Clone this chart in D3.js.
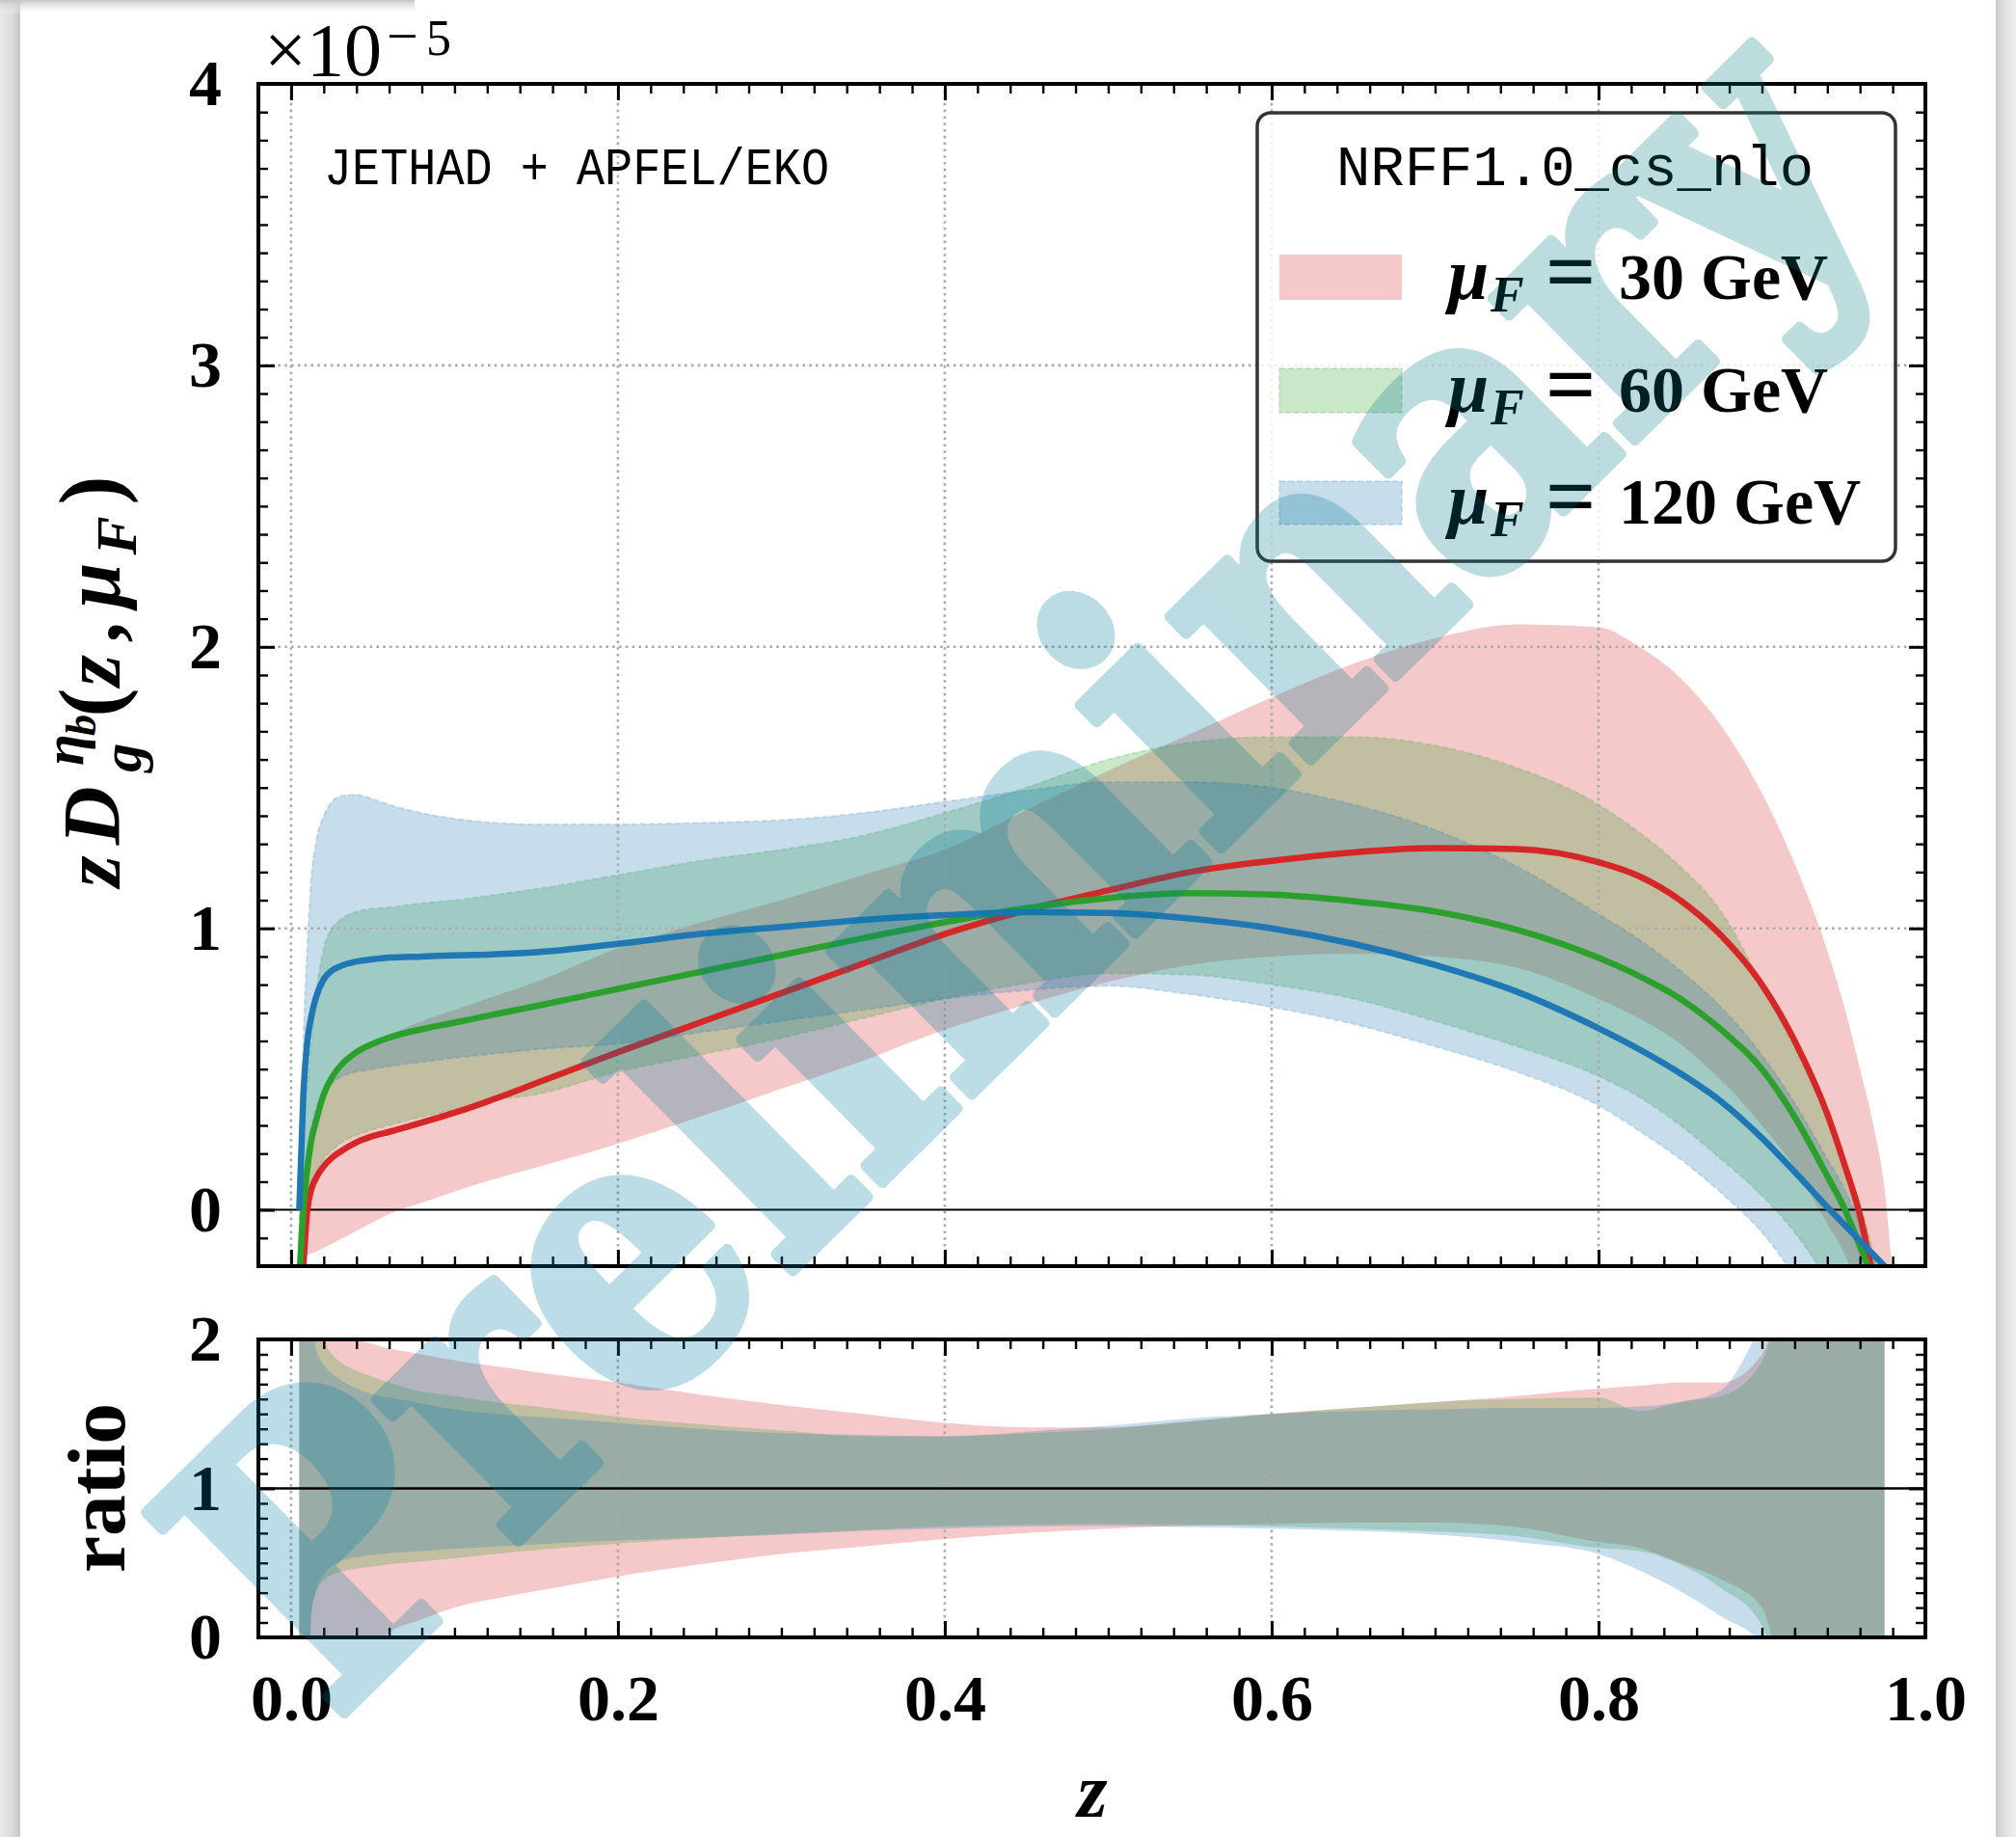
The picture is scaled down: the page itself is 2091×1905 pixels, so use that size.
<!DOCTYPE html>
<html><head><meta charset="utf-8">
<script src="https://cdn.jsdelivr.net/npm/d3@7"></script>
<style>html,body{margin:0;padding:0;background:#fff;} svg{display:block;}</style>
</head><body>
<script>
// ---------------- DATA (values in units of 1e-5) ----------------
const zGrid = [0.005, 0.0075, 0.01, 0.0125, 0.015, 0.02, 0.025, 0.03, 0.04, 0.05, 0.06, 0.08, 0.1, 0.125, 0.15, 0.2, 0.25, 0.3, 0.35, 0.4, 0.45, 0.5, 0.55, 0.6, 0.65, 0.7, 0.75, 0.8, 0.825, 0.85, 0.875, 0.9, 0.92, 0.94, 0.95, 0.96, 0.97, 0.975, 0.98];

const seriesLabels = ["30", "60", "120"];
const seriesColors = ["#d62728", "#2ca02c", "#1f77b4"];

const centralMu30  = [-0.45, -0.2, 0.0, 0.075, 0.11, 0.155, 0.185, 0.206, 0.24, 0.262, 0.277, 0.31, 0.345, 0.395, 0.45, 0.56, 0.665, 0.77, 0.875, 0.98, 1.065, 1.135, 1.2, 1.24, 1.27, 1.285, 1.282, 1.235, 1.185, 1.1, 0.975, 0.8, 0.6, 0.34, 0.17, -0.02, -0.3, -0.45, -0.6];
const centralMu60  = [-0.25, 0.0, 0.15, 0.25, 0.31, 0.41, 0.47, 0.51, 0.56, 0.59, 0.612, 0.642, 0.665, 0.695, 0.724, 0.785, 0.845, 0.905, 0.965, 1.022, 1.072, 1.108, 1.125, 1.12, 1.097, 1.06, 0.995, 0.895, 0.83, 0.75, 0.64, 0.5, 0.33, 0.12, 0.01, -0.13, -0.28, -0.36, -0.45];
const centralMu120 = [0.0, 0.41, 0.6, 0.69, 0.75, 0.82, 0.85, 0.865, 0.882, 0.89, 0.896, 0.9, 0.904, 0.908, 0.915, 0.945, 0.98, 1.005, 1.03, 1.047, 1.057, 1.055, 1.035, 1.0, 0.945, 0.87, 0.775, 0.645, 0.57, 0.485, 0.385, 0.255, 0.135, 0.01, -0.05, -0.11, -0.17, -0.2, -0.23];

const lowMu30  = [-0.17, -0.165, -0.16, -0.155, -0.15, -0.135, -0.12, -0.105, -0.075, -0.045, -0.015, 0.025, 0.065, 0.11, 0.15, 0.235, 0.33, 0.43, 0.53, 0.64, 0.73, 0.81, 0.87, 0.9, 0.91, 0.9, 0.86, 0.75, 0.68, 0.59, 0.46, 0.3, 0.15, -0.05, -0.15, -0.3, -0.5, -0.5, -0.5];
const highMu30 = [-0.3, 0.0, 0.15, 0.25, 0.32, 0.4, 0.45, 0.49, 0.55, 0.59, 0.62, 0.67, 0.71, 0.76, 0.81, 0.93, 1.02, 1.1, 1.19, 1.28, 1.42, 1.56, 1.69, 1.82, 1.94, 2.03, 2.08, 2.07, 2.0, 1.89, 1.72, 1.48, 1.23, 0.92, 0.73, 0.5, 0.25, 0.08, -0.25];
const lowMu60  = [-0.4, -0.2, 0.0, 0.07, 0.12, 0.18, 0.21, 0.235, 0.265, 0.285, 0.3, 0.33, 0.355, 0.39, 0.41, 0.49, 0.55, 0.61, 0.68, 0.75, 0.805, 0.84, 0.835, 0.8, 0.75, 0.67, 0.58, 0.475, 0.4, 0.3, 0.18, 0.05, -0.08, -0.25, -0.35, -0.45, -0.5, -0.5, -0.5];
const highMu60 = [-0.1, 0.3, 0.45, 0.6, 0.75, 0.93, 1.0, 1.03, 1.06, 1.07, 1.075, 1.09, 1.1, 1.12, 1.14, 1.19, 1.24, 1.28, 1.33, 1.41, 1.5, 1.6, 1.66, 1.68, 1.68, 1.65, 1.57, 1.44, 1.34, 1.22, 1.06, 0.8, 0.57, 0.33, 0.18, 0.02, -0.2, -0.35, -0.45];
const lowMu120  = [-0.3, 0.0, 0.2, 0.3, 0.36, 0.42, 0.45, 0.47, 0.49, 0.5, 0.51, 0.525, 0.54, 0.555, 0.57, 0.59, 0.63, 0.67, 0.71, 0.75, 0.78, 0.795, 0.765, 0.72, 0.66, 0.58, 0.49, 0.37, 0.28, 0.18, 0.06, -0.08, -0.23, -0.35, -0.4, -0.45, -0.5, -0.5, -0.5];
const highMu120 = [0.05, 0.6, 0.95, 1.19, 1.3, 1.4, 1.45, 1.47, 1.475, 1.46, 1.44, 1.41, 1.39, 1.375, 1.37, 1.37, 1.375, 1.385, 1.41, 1.45, 1.49, 1.52, 1.52, 1.5, 1.44, 1.35, 1.22, 1.05, 0.96, 0.85, 0.72, 0.55, 0.38, 0.18, 0.08, -0.05, -0.2, -0.3, -0.4];

const ratioLowMu30   = [-0.5, -0.5, -0.5, -0.3, -0.28, -0.25, -0.22, -0.2, -0.15, -0.08, 0.03, 0.12, 0.2, 0.26, 0.31, 0.41, 0.49, 0.56, 0.61, 0.66, 0.7, 0.73, 0.75, 0.76, 0.77, 0.77, 0.74, 0.64, 0.6, 0.5, 0.39, 0.2, -0.5, -0.5, -0.5, -0.5, -0.5, -0.5, null];
const ratioHighMu30  = [2.5, 2.5, 2.5, 2.5, 2.5, 2.4, 2.2, 2.1, 2.0, 1.97, 1.94, 1.9, 1.86, 1.82, 1.78, 1.71, 1.63, 1.56, 1.5, 1.44, 1.41, 1.41, 1.45, 1.5, 1.54, 1.58, 1.62, 1.67, 1.69, 1.71, 1.71, 1.9, 2.5, 2.5, 2.5, 2.5, 2.5, 2.5, null];
const ratioLowMu60   = [-0.5, -0.5, -0.5, 0.2, 0.3, 0.38, 0.42, 0.44, 0.46, 0.475, 0.49, 0.51, 0.53, 0.56, 0.585, 0.63, 0.665, 0.695, 0.72, 0.745, 0.755, 0.76, 0.755, 0.745, 0.73, 0.71, 0.68, 0.6, 0.58, 0.49, 0.33, 0.08, -0.5, -0.5, -0.5, -0.5, -0.5, -0.5, null];
const ratioHighMu60  = [2.5, 2.5, 2.5, 2.5, 2.1, 1.98, 1.9, 1.85, 1.79, 1.75, 1.71, 1.65, 1.62, 1.58, 1.55, 1.48, 1.43, 1.39, 1.35, 1.35, 1.37, 1.4, 1.45, 1.5, 1.54, 1.58, 1.6, 1.61, 1.52, 1.58, 1.62, 1.85, 2.5, 2.5, 2.5, 2.5, 2.5, 2.5, null];
const ratioLowMu120  = [-0.5, -0.5, -0.5, 0.15, 0.3, 0.42, 0.48, 0.51, 0.54, 0.555, 0.565, 0.58, 0.595, 0.61, 0.625, 0.65, 0.67, 0.69, 0.715, 0.73, 0.745, 0.75, 0.74, 0.73, 0.715, 0.69, 0.64, 0.56, 0.45, 0.31, 0.14, -0.05, -0.5, -0.5, -0.5, -0.5, -0.5, -0.5, null];
const ratioHighMu120 = [2.5, 2.5, 2.5, 2.3, 1.95, 1.83, 1.77, 1.73, 1.67, 1.63, 1.61, 1.57, 1.53, 1.5, 1.48, 1.44, 1.4, 1.37, 1.36, 1.35, 1.38, 1.42, 1.47, 1.5, 1.52, 1.53, 1.54, 1.54, 1.55, 1.58, 1.66, 2.1, 2.5, 2.5, 2.5, 2.5, 2.5, 2.5, null];

const xMajorTicks = [0.0, 0.2, 0.4, 0.6, 0.8, 1.0];
const xTickLabels = ["0.0", "0.2", "0.4", "0.6", "0.8", "1.0"];
const yMainTicks = [0, 1, 2, 3, 4];
const yMainTickLabels = ["0", "1", "2", "3", "4"];
const yRatioTicks = [0, 1, 2];
const yRatioTickLabels = ["0", "1", "2"];

// ---------------- SETUP ----------------
const W = 2091, H = 1905;
const SERIF = "'Liberation Serif', 'DejaVu Serif', serif";
const MONO = "'Liberation Mono', 'DejaVu Sans Mono', monospace";

const svg = d3.select("body").append("svg").attr("width", W).attr("height", H);
const defs = svg.append("defs");
function linGrad(id, x1, y1, x2, y2, stops, units) {
  const g = defs.append("linearGradient").attr("id", id)
    .attr("x1", x1).attr("y1", y1).attr("x2", x2).attr("y2", y2);
  if (units) g.attr("gradientUnits", units);
  stops.forEach(s => g.append("stop").attr("offset", s[0]).attr("stop-color", s[1])
    .attr("stop-opacity", s[2] === undefined ? 1 : s[2]));
}

// page background / window edges
svg.append("rect").attr("width", W).attr("height", H).attr("fill", "#ffffff");
linGrad("leftEdge", "0", "0", "1", "0", [[0, "#e9e9e9"], [0.6, "#dcdcdc"], [1, "#c4c4c4"]]);
svg.append("rect").attr("x", 0).attr("y", 0).attr("width", 21).attr("height", H).attr("fill", "url(#leftEdge)");
linGrad("rightEdge", "0", "0", "1", "0", [[0, "#c9c9c9"], [0.35, "#dedede"], [1, "#efefef"]]);
svg.append("rect").attr("x", 2070).attr("y", 0).attr("width", 21).attr("height", H).attr("fill", "url(#rightEdge)");
linGrad("topShadow", "0", "0", "0", "1", [[0, "#c4c4c4"], [1, "#ffffff", 0]]);
svg.append("rect").attr("x", 0).attr("y", 0).attr("width", 430).attr("height", 16).attr("fill", "url(#topShadow)");

// scales
const x = d3.scaleLinear().domain([-0.02, 1.0]).range([268, 1997]);
const yMain = d3.scaleLinear().domain([-0.2, 4.0]).range([1313, 87]);
const yRatio = d3.scaleLinear().domain([0, 2]).range([1698, 1389]);

defs.append("clipPath").attr("id", "clipMain").append("rect")
  .attr("x", x.range()[0]).attr("y", yMain.range()[1])
  .attr("width", x.range()[1] - x.range()[0]).attr("height", yMain.range()[0] - yMain.range()[1]);
defs.append("clipPath").attr("id", "clipRatio").append("rect")
  .attr("x", x.range()[0]).attr("y", yRatio.range()[1])
  .attr("width", x.range()[1] - x.range()[0]).attr("height", yRatio.range()[0] - yRatio.range()[1]);

const series = [
  {c: centralMu30,  lo: lowMu30,  hi: highMu30,  rlo: ratioLowMu30,  rhi: ratioHighMu30,  dashed: false},
  {c: centralMu60,  lo: lowMu60,  hi: highMu60,  rlo: ratioLowMu60,  rhi: ratioHighMu60,  dashed: true},
  {c: centralMu120, lo: lowMu120, hi: highMu120, rlo: ratioLowMu120, rhi: ratioHighMu120, dashed: true}
].map((s, k) => Object.assign(s, {color: seriesColors[k], label: seriesLabels[k]}));

const idx = d3.range(zGrid.length);
const BAND_ALPHA = 0.25;

// ---------------- MAIN PANEL ----------------
const gMain = svg.append("g").attr("clip-path", "url(#clipMain)");
series.forEach(s => {
  const area = d3.area().x(i => x(zGrid[i])).y0(i => yMain(s.lo[i])).y1(i => yMain(s.hi[i]))
    .curve(d3.curveMonotoneX);
  const p = gMain.append("path").attr("d", area(idx)).attr("fill", s.color).attr("fill-opacity", BAND_ALPHA);
  if (s.dashed) p.attr("stroke", s.color).attr("stroke-opacity", 0.18).attr("stroke-width", 2)
    .attr("stroke-dasharray", "6,3");
});
// grid
function gridLines(g, yScale, yTicks) {
  const gg = g.append("g").attr("stroke", "#aaaaaa").attr("stroke-width", 2.6).attr("stroke-dasharray", "2.6,4.2");
  xMajorTicks.forEach(v => gg.append("line").attr("x1", x(v)).attr("x2", x(v))
    .attr("y1", yScale.range()[0]).attr("y2", yScale.range()[1]));
  yTicks.forEach(v => gg.append("line").attr("x1", x.range()[0]).attr("x2", x.range()[1])
    .attr("y1", yScale(v)).attr("y2", yScale(v)));
}
gridLines(gMain, yMain, [1, 2, 3]);
gMain.append("line").attr("x1", x.range()[0]).attr("x2", x.range()[1])
  .attr("y1", yMain(0)).attr("y2", yMain(0)).attr("stroke", "#000").attr("stroke-width", 2);
series.forEach(s => {
  const line = d3.line().x(i => x(zGrid[i])).y(i => yMain(s.c[i])).curve(d3.curveMonotoneX);
  gMain.append("path").attr("d", line(idx)).attr("fill", "none").attr("stroke", s.color)
    .attr("stroke-width", 6.5).attr("stroke-linejoin", "round");
});

// ---------------- RATIO PANEL ----------------
const gRatio = svg.append("g").attr("clip-path", "url(#clipRatio)");
series.forEach(s => {
  const area = d3.area().defined(i => s.rlo[i] !== null)
    .x(i => x(zGrid[i])).y0(i => yRatio(s.rlo[i])).y1(i => yRatio(s.rhi[i]))
    .curve(d3.curveMonotoneX);
  gRatio.append("path").attr("d", area(idx)).attr("fill", s.color).attr("fill-opacity", BAND_ALPHA);
});
gridLines(gRatio, yRatio, []);
gRatio.append("line").attr("x1", x.range()[0]).attr("x2", x.range()[1])
  .attr("y1", yRatio(1)).attr("y2", yRatio(1)).attr("stroke", "#000").attr("stroke-width", 2.6);

// ---------------- AXES ----------------
const xMinor = d3.range(0, 52).map(i => +(-0.02 + i * 0.02).toFixed(3)).filter(v => v <= 1.0 && Math.abs(v * 5 - Math.round(v * 5)) > 1e-6);
const yMainMinor = d3.range(-2, 41).map(i => +(i * 0.1).toFixed(2)).filter(v => Math.abs(v - Math.round(v)) > 1e-6);
const yRatioMinor = d3.range(0, 21).map(i => +(i * 0.1).toFixed(2)).filter(v => Math.abs(v - Math.round(v)) > 1e-6);

function axisG(gen, tx, ty, width) {
  const g = svg.append("g").attr("transform", `translate(${tx},${ty})`).call(gen);
  g.select(".domain").remove();
  g.selectAll(".tick line").attr("stroke", "#000").attr("stroke-width", width);
  return g;
}
const MAJ = 17, MIN = 10;
[[yMain, yMainTicks, yMainMinor], [yRatio, yRatioTicks, yRatioMinor]].forEach(([ys, maj, mnr]) => {
  const top = ys.range()[1], bot = ys.range()[0];
  axisG(d3.axisBottom(x).tickValues(xMajorTicks).tickSize(-MAJ).tickFormat(""), 0, bot, 3);
  axisG(d3.axisBottom(x).tickValues(xMinor).tickSize(-MIN).tickFormat(""), 0, bot, 2.4);
  axisG(d3.axisTop(x).tickValues(xMajorTicks).tickSize(-MAJ).tickFormat(""), 0, top, 3);
  axisG(d3.axisTop(x).tickValues(xMinor).tickSize(-MIN).tickFormat(""), 0, top, 2.4);
  axisG(d3.axisLeft(ys).tickValues(maj).tickSize(-MAJ).tickFormat(""), x.range()[0], 0, 3);
  axisG(d3.axisLeft(ys).tickValues(mnr).tickSize(-MIN).tickFormat(""), x.range()[0], 0, 2.4);
  axisG(d3.axisRight(ys).tickValues(maj).tickSize(-MAJ).tickFormat(""), x.range()[1], 0, 3);
  axisG(d3.axisRight(ys).tickValues(mnr).tickSize(-MIN).tickFormat(""), x.range()[1], 0, 2.4);
  svg.append("rect").attr("x", x.range()[0]).attr("y", top)
    .attr("width", x.range()[1] - x.range()[0]).attr("height", bot - top)
    .attr("fill", "none").attr("stroke", "#000").attr("stroke-width", 4);
});

// tick labels
function styleLabels(g) {
  g.selectAll(".tick text").attr("font-family", SERIF).attr("font-weight", "bold")
    .attr("font-size", 68).attr("fill", "#000");
}
styleLabels(axisG(d3.axisBottom(x).tickValues(xMajorTicks).tickSize(0).tickPadding(38)
  .tickFormat((d, i) => xTickLabels[i]), 0, yRatio.range()[0], 0));
styleLabels(axisG(d3.axisLeft(yMain).tickValues(yMainTicks).tickSize(0).tickPadding(38)
  .tickFormat((d, i) => yMainTickLabels[i]), x.range()[0], 0, 0));
styleLabels(axisG(d3.axisLeft(yRatio).tickValues(yRatioTicks).tickSize(0).tickPadding(38)
  .tickFormat((d, i) => yRatioTickLabels[i]), x.range()[0], 0, 0));

// offset text ×10^-5
const off = svg.append("g").attr("font-family", SERIF).attr("fill", "#000");
off.append("text").attr("x", 274).attr("y", 78).attr("font-size", 78).text("×10");
off.append("text").attr("x", 401).attr("y", 57).attr("font-size", 58).text("−");
off.append("text").attr("x", 442).attr("y", 57).attr("font-size", 52).text("5");

// annotation
svg.append("text").attr("x", 336).attr("y", 191).attr("font-family", MONO).attr("font-size", 54)
  .attr("textLength", 524).attr("lengthAdjust", "spacingAndGlyphs").attr("fill", "#000")
  .text("JETHAD + APFEL/EKO");

// axis labels
const ylab = svg.append("g").attr("transform", "translate(124,920) rotate(-90)")
  .attr("font-family", SERIF).attr("font-weight", "bold").attr("fill", "#000");
const em = 84;
const yPieces = [
  {t: "z", x: 0, y: 0, s: em, it: true},
  {t: "D", x: 0.52 * em, y: 0, s: em, it: true},
  {t: "g", x: 1.42 * em, y: 0.26 * em, s: 60, it: true},
  {t: "η", x: 1.5 * em, y: -0.45 * em, s: 60, it: true},
  {t: "b", x: 1.5 * em + 31, y: -0.3 * em, s: 44, it: true},
  {t: "(", x: 2.1 * em, y: 0, s: em + 6, it: false},
  {t: "z", x: 2.48 * em, y: 0, s: em, it: true},
  {t: ",", x: 3.02 * em, y: 0, s: em, it: false},
  {t: "μ", x: 3.45 * em, y: 0, s: em, it: true},
  {t: "F", x: 4.1 * em, y: 0.2 * em, s: 60, it: true},
  {t: ")", x: 4.72 * em, y: 0, s: em + 6, it: false}
];
yPieces.forEach(p => ylab.append("text").attr("x", p.x).attr("y", p.y).attr("font-size", p.s)
  .attr("font-style", p.it ? "italic" : "normal").text(p.t));

svg.append("text").attr("transform", "translate(129,1543) rotate(-90)").attr("text-anchor", "middle")
  .attr("font-family", SERIF).attr("font-weight", "bold").attr("font-size", 84)
  .attr("textLength", 176).attr("lengthAdjust", "spacingAndGlyphs").attr("fill", "#000").text("ratio");

svg.append("text").attr("x", 1133).attr("y", 1884).attr("text-anchor", "middle")
  .attr("font-family", SERIF).attr("font-weight", "bold").attr("font-style", "italic")
  .attr("font-size", 80).attr("fill", "#000").text("z");

// ---------------- LEGEND ----------------
const leg = svg.append("g");
leg.append("rect").attr("x", 1304).attr("y", 117).attr("width", 662).attr("height", 465).attr("rx", 14)
  .attr("fill", "#ffffff").attr("fill-opacity", 0.8).attr("stroke", "#333333").attr("stroke-width", 3.5);
leg.append("text").attr("x", 1386).attr("y", 192).attr("font-family", MONO).attr("font-size", 59)
  .attr("textLength", 495).attr("lengthAdjust", "spacingAndGlyphs").attr("fill", "#000").text("NRFF1.0_cs_nlo");
const legRows = [{top: 264, base: 310}, {top: 382, base: 427}, {top: 499, base: 543}];
series.forEach((s, k) => {
  const r = legRows[k];
  const sw = leg.append("rect").attr("x", 1327).attr("y", r.top).attr("width", 127).attr("height", r.base - r.top + 1)
    .attr("fill", s.color).attr("fill-opacity", BAND_ALPHA);
  if (s.dashed) sw.attr("stroke", s.color).attr("stroke-opacity", 0.18).attr("stroke-width", 2).attr("stroke-dasharray", "6,3");
  const t = leg.append("g").attr("font-family", SERIF).attr("font-weight", "bold").attr("fill", "#000");
  t.append("text").attr("x", 1502).attr("y", r.base).attr("font-size", 76).attr("font-style", "italic").text("μ");
  t.append("text").attr("x", 1546).attr("y", r.base + 13).attr("font-size", 52).attr("font-style", "italic").text("F");
  t.append("text").attr("x", 1603).attr("y", r.base + 2).attr("font-size", 92).text("=");
  t.append("text").attr("x", 1679).attr("y", r.base).attr("font-size", 68).text(s.label + " GeV");
});

// ---------------- WATERMARK ----------------
linGrad("wmGrad", "0", "0", "1", "0", [[0, "rgb(0,124,168)"], [0.5, "rgb(0,122,158)"], [1, "rgb(6,126,126)"]]);
svg.append("g").attr("opacity", 0.26)
  .append("text").attr("transform", "translate(345,1788) rotate(-44.6)")
  .attr("font-family", "'DejaVu Serif', serif").attr("font-weight", "bold").attr("font-size", 400)
  .attr("textLength", 2265).attr("lengthAdjust", "spacingAndGlyphs")
  .attr("fill", "url(#wmGrad)").attr("stroke", "url(#wmGrad)").attr("stroke-width", 12)
  .attr("stroke-linejoin", "round").text("Preliminary");
</script>
</body></html>
